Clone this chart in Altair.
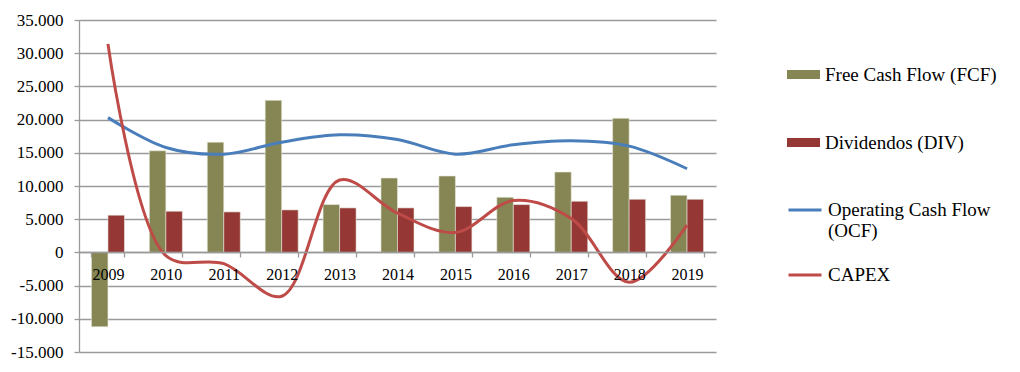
import altair as alt
import pandas as pd

years = ["2009", "2010", "2011", "2012", "2013", "2014", "2015", "2016", "2017", "2018", "2019"]
fcf = [-11200, 15300, 16600, 22900, 7200, 11200, 11500, 8300, 12100, 20200, 8600]
div = [5600, 6200, 6100, 6400, 6700, 6700, 6900, 7200, 7700, 8000, 8000]
ocf = [20300, 15800, 14800, 16600, 17700, 17000, 14800, 16200, 16800, 16000, 12600]
capex = [31400, -500, -1700, -6600, 10900, 5900, 3000, 7800, 5100, -4500, 4100]
y_ticks = [-15000, -10000, -5000, 0, 5000, 10000, 15000, 20000, 25000, 30000, 35000]

bar_names = ["Free Cash Flow (FCF)", "Dividendos (DIV)"]
line_names = ["Operating Cash Flow (OCF)", "CAPEX"]
bar_colors = ["#858653", "#953735"]
line_colors = ["#4a7ebb", "#be4b48"]

bars_df = pd.DataFrame(
    [{"year": y, "series": bar_names[0], "value": v} for y, v in zip(years, fcf)]
    + [{"year": y, "series": bar_names[1], "value": v} for y, v in zip(years, div)]
)
lines_df = pd.DataFrame(
    [{"year": y, "series": line_names[0], "value": v} for y, v in zip(years, ocf)]
    + [{"year": y, "series": line_names[1], "value": v} for y, v in zip(years, capex)]
)

FONT = "Liberation Serif"
GRID = "#9a9a9a"

yscale = alt.Scale(domain=[-15000, 35000], nice=False, zero=False)
xscale = alt.Scale(paddingInner=0.43, paddingOuter=0.215)

ylabel = "datum.value == 0 ? '0' : (datum.value < 0 ? '-' : '') + replace(format(abs(datum.value), ','), ',', '.')"

x_axis = alt.Axis(
    offset=-100, labelAngle=0, labelFont=FONT, labelFontSize=16, labelColor="#000",
    labelPadding=9, domainColor=GRID, domainWidth=1.3, tickColor=GRID, tickSize=5,
    tickWidth=1.3, tickBand="extent", grid=False, zindex=1, labelOverlap=False,
)
y_axis = alt.Axis(
    values=y_ticks, labelExpr=ylabel, labelFont=FONT,
    labelFontSize=17, labelColor="#000", labelPadding=11, domainColor=GRID,
    domainWidth=1.3, tickColor=GRID, tickSize=5, tickWidth=1.3, grid=True,
    gridColor=GRID, gridWidth=1.3, labelOverlap=False,
)

bars = alt.Chart(bars_df).mark_bar(stroke="#e8e8dc", strokeWidth=0.6).encode(
    x=alt.X("year:N", sort=years, scale=xscale, title=None, axis=x_axis),
    xOffset=alt.XOffset("series:N", sort=bar_names, scale=alt.Scale(paddingInner=0, paddingOuter=0)),
    y=alt.Y("value:Q", scale=yscale, title=None, axis=y_axis),
    fill=alt.Fill(
        "series:N", scale=alt.Scale(domain=bar_names, range=bar_colors),
        legend=alt.Legend(
            title=None, orient="none", legendX=708, legendY=38, direction="vertical",
            symbolType="M-1,-0.27H1V0.27H-1Z", symbolSize=1089, symbolStrokeWidth=0,
            labelFont=FONT, labelFontSize=19, labelColor="#000", labelOffset=5,
            rowPadding=41, padding=0, labelLimit=300,
        ),
    ),
)

lines = alt.Chart(lines_df).mark_line(strokeWidth=3, interpolate="catmull-rom").encode(
    x=alt.X("year:N", sort=years, scale=xscale, title=None, axis=x_axis),
    y=alt.Y("value:Q", scale=yscale, title=None, axis=y_axis),
    stroke=alt.Stroke(
        "series:N", scale=alt.Scale(domain=line_names, range=line_colors),
        legend=alt.Legend(
            title=None, orient="none", legendX=708, legendY=172, direction="vertical",
            symbolType="stroke", symbolSize=1089, symbolStrokeWidth=3,
            labelFont=FONT, labelFontSize=19, labelColor="#000", labelOffset=5,
            rowPadding=16, padding=0, labelLimit=300,
            labelExpr="datum.label == 'Operating Cash Flow (OCF)' ? ['Operating Cash Flow', '(OCF)'] : datum.label",
        ),
    ),
)

chart = (
    alt.layer(bars, lines)
    .resolve_scale(fill="independent", stroke="independent")
    .properties(
        width=637, height=332,
        background="white",
        autosize=alt.AutoSizeParams(type="none"),
        padding={"left": 71, "top": 12, "right": 290, "bottom": 12},
    )
    .configure_view(strokeWidth=0, stroke="transparent")
)

chart.save("out.html", embed_options={"renderer": "svg", "actions": False})
